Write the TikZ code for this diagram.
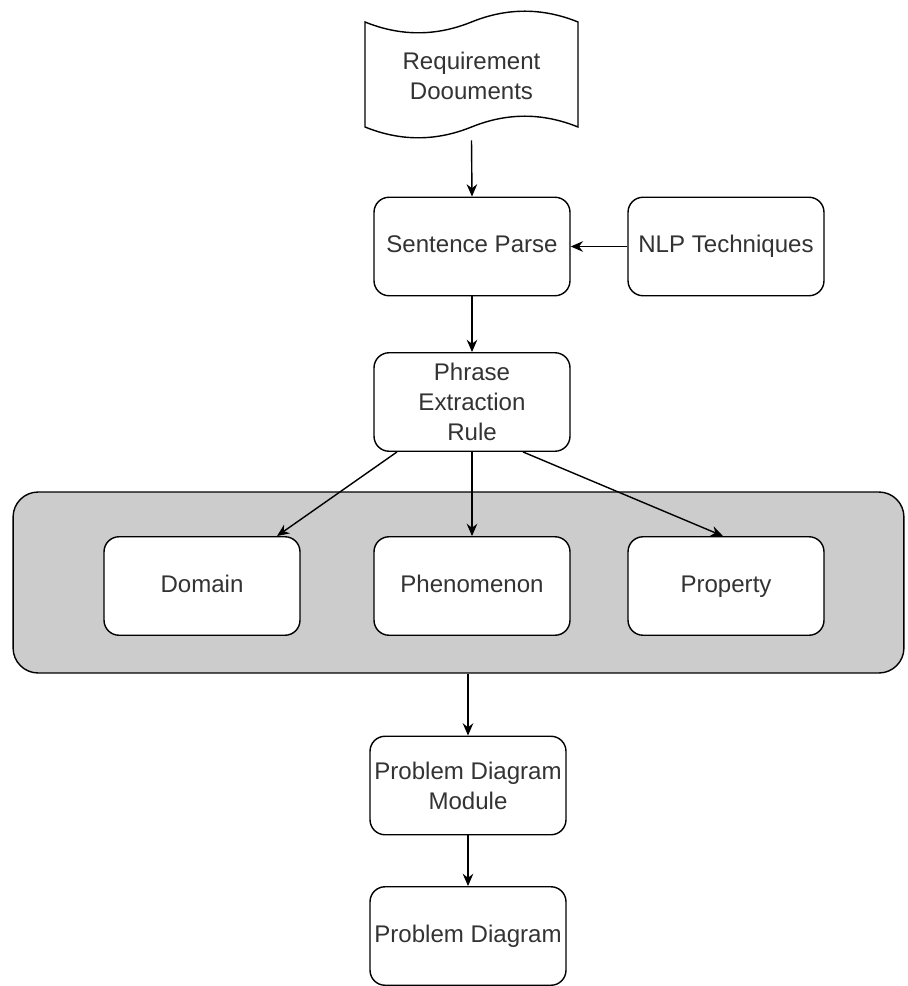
\documentclass[tikz,border=0pt]{standalone}
\usepackage{fontspec}
\setmainfont{Liberation Sans}
\usetikzlibrary{arrows.meta,calc}

\definecolor{txt}{HTML}{333333}
\definecolor{groupfill}{HTML}{CCCCCC}

\tikzset{
  every node/.style={font=\fontsize{13.7}{17.2}\selectfont, text=txt},
  box/.style={draw, line width=0.8pt, rounded corners=0.3cm, fill=white,
              minimum width=3.92cm, minimum height=1.97cm, align=center, inner sep=0pt},
  oneline/.style={text height=0.716em, text depth=0pt},
  groupbox/.style={draw, line width=0.8pt, rounded corners=0.5cm, fill=groupfill,
              minimum width=17.82cm, minimum height=3.62cm, inner sep=0pt},
  flow/.style={-{Stealth[length=7pt,width=6pt]}, line width=0.8pt}
}

\begin{document}
\begin{tikzpicture}[x=0.02cm, y=-0.02cm]
\useasboundingbox (0,0) rectangle (907,986);

% wavy document shape
\draw[line width=0.8pt, fill=white]
  (365,22) .. controls (400.5,36.4) and (436,36.4) .. (471.5,22)
           .. controls (507,7.6) and (542.5,7.6) .. (578,22)
  -- (578,127) .. controls (542.5,112.6) and (507,112.6) .. (471.5,127)
           .. controls (436,141.4) and (400.5,141.4) .. (365,127) -- cycle;
\node[minimum width=4.26cm, minimum height=2.56cm, align=center, inner sep=0pt]
  (doc) at (471.5,76) {Requirement\\Doouments};

\node[box, oneline] (sp)  at (472,246.5) {Sentence Parse};
\node[box, oneline] (nlp) at (726,246.5) {NLP Techniques};
\node[box] (per) at (472,402) {Phrase\\Extraction\\Rule};

% grouped element types
\node[groupbox] (grp) at (458.5,582.5) {};
\node[box, oneline] (dom)  at (202,586) {Domain};
\node[box, oneline] (phen) at (472,586) {Phenomenon};
\node[box, oneline] (prop) at (726,586) {Property};

\node[box] (pdm) at (468,785.5) {Problem Diagram\\Module};
\node[box, oneline] (pd)  at (468,936) {Problem Diagram};

% connectors
\draw[flow] (doc.south) -- (sp.north);
\draw[flow] (nlp.west) -- (sp.east);
\draw[flow] (sp.south) -- (per.north);
\draw[flow] ($(per.south)+(-75,0)$) -- ($(dom.north)+(75,0)$);
\draw[flow] (per.south) -- (phen.north);
\draw[flow] ($(per.south)+(51,0)$) -- ($(prop.north)+(-3,0)$);
\draw[flow] (grp.south -| pdm.north) -- (pdm.north);
\draw[flow] (pdm.south) -- (pd.north);
\end{tikzpicture}
\end{document}
